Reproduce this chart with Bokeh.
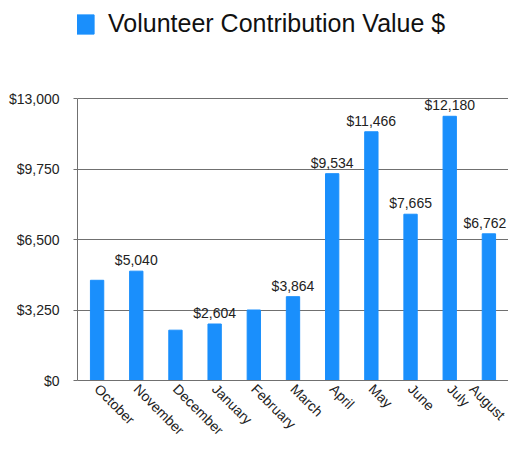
import math
from bokeh.plotting import figure
from bokeh.models import ColumnDataSource, FixedTicker, NumeralTickFormatter, Legend, LegendItem
from bokeh.core.properties import value
from bokeh.embed import file_html
from bokeh.resources import INLINE

months = ["October", "November", "December", "January", "February", "March",
          "April", "May", "June", "July", "August"]
values = [4620, 5040, 2320, 2604, 3250, 3864, 9534, 11466, 7665, 12180, 6762]
bar_labels = ["", "$5,040", "", "$2,604", "", "$3,864",
              "$9,534", "$11,466", "$7,665", "$12,180", "$6,762"]
y_ticks = [0, 3250, 6500, 9750, 13000]
series_name = "Volunteer Contribution Value $"

FONT = "Liberation Sans"
BLUE = "#1a8ffc"
GRID = "#707070"

# frame spans whole top area; axis max 13000 sits 98px below top
FRAME_H = 380
AXIS_PX = 282
y_end = y_ticks[-1] * FRAME_H / AXIS_PX

# nudge the last label left so it stays inside the plot edge
label_dx = [0] * (len(months) - 1) + [-4]

source = ColumnDataSource(dict(month=months, value=values, label=bar_labels, dx=label_dx))

p = figure(x_range=months, y_range=(0, y_end), width=508, height=448,
           output_backend="svg", toolbar_location=None,
           min_border_left=77, min_border_right=0, min_border_top=0, min_border_bottom=448 - FRAME_H)

r = p.vbar(x="month", top="value", width=0.34, source=source, color=BLUE)

p.text(x="month", y="value", text="label", source=source,
       text_align="center", text_baseline="bottom", y_offset=-3, x_offset="dx",
       text_font=value(FONT), text_font_size="14px", text_color="#222222")

legend = Legend(items=[LegendItem(label=series_name, renderers=[r])],
                location=(-5, FRAME_H - 38), orientation="horizontal",
                glyph_width=24, glyph_height=24, label_standoff=12,
                label_text_font=FONT, label_text_font_size="25px",
                label_text_color="#111111", border_line_color=None,
                background_fill_alpha=0, padding=0, margin=0)
p.add_layout(legend, "center")

p.outline_line_color = None
p.xgrid.grid_line_color = None
p.ygrid.grid_line_color = GRID
p.ygrid.grid_line_width = 1
p.ygrid.ticker = FixedTicker(ticks=y_ticks)

p.yaxis.ticker = FixedTicker(ticks=y_ticks)
p.yaxis.bounds = (y_ticks[0], y_ticks[-1])
p.yaxis.formatter = NumeralTickFormatter(format="$0,0")
p.yaxis.axis_line_color = GRID
p.yaxis.major_tick_line_color = GRID
p.yaxis.major_tick_out = 4
p.yaxis.major_tick_in = 0
p.yaxis.minor_tick_line_color = None
p.yaxis.major_label_standoff = 14
p.yaxis.major_label_text_font = FONT
p.yaxis.major_label_text_font_size = "14px"
p.yaxis.major_label_text_color = "#222222"

p.xaxis.axis_line_color = GRID
p.xaxis.major_tick_line_color = None
p.xaxis.major_tick_out = 0
p.xaxis.major_tick_in = 0
p.xaxis.major_label_orientation = -math.pi / 4
p.xaxis.major_label_standoff = 6
p.xaxis.major_label_text_font = FONT
p.xaxis.major_label_text_font_size = "14px"
p.xaxis.major_label_text_color = "#222222"

open("out.html", "w").write(file_html(p, INLINE))
